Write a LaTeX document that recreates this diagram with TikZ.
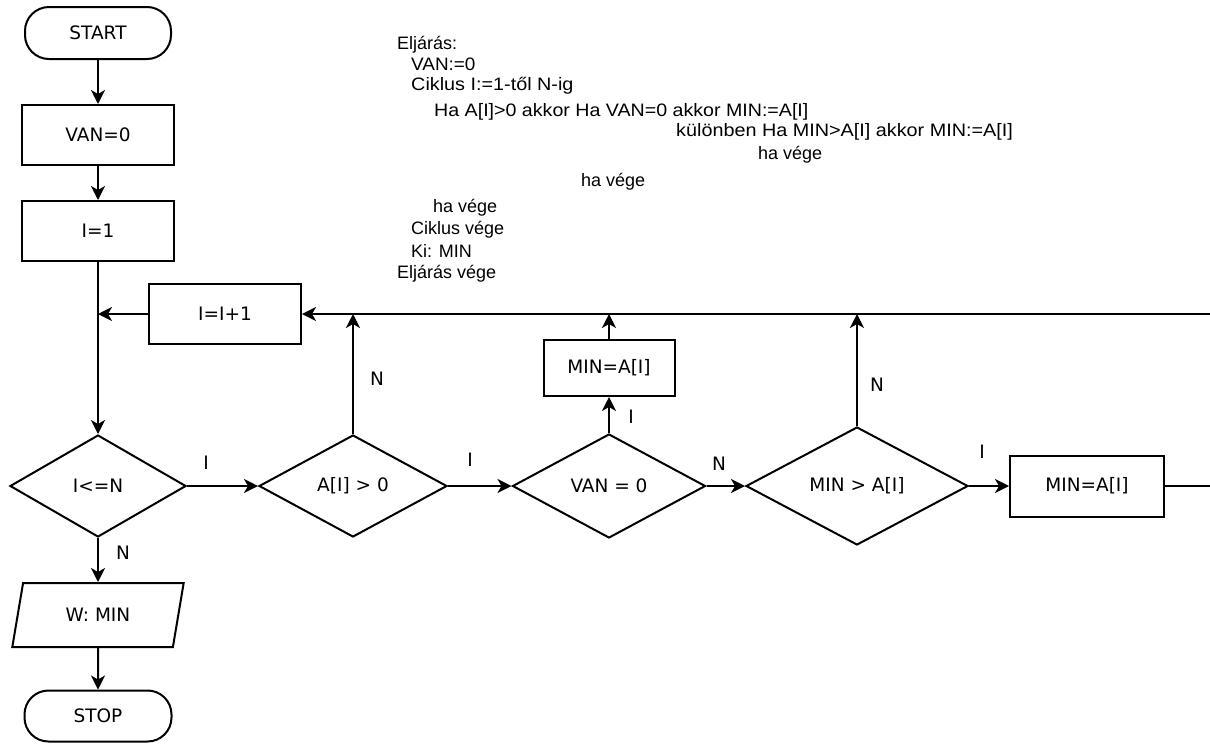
\documentclass[tikz,border=0pt]{standalone}
\usepackage{fontspec}
\setmainfont{Liberation Sans}
\newfontfamily\nodefont{DejaVu Sans}
\usetikzlibrary{shapes.geometric,arrows.meta}
\begin{document}
\begin{tikzpicture}[x=1pt,y=-1pt,
  txt/.style={font=\nodefont\fontsize{18.5pt}{22pt}\selectfont},
  base/.style={txt, draw, line width=2pt, inner sep=0pt},
  proc/.style={base, rectangle},
  term/.style={base, rectangle, rounded corners=24pt},
  dec/.style={base, diamond, aspect=2},
  io/.style={base, trapezium, trapezium left angle=71, trapezium right angle=109, trapezium stretches=true},
  arr/.style={line width=2pt, -{Stealth[length=14pt,width=14pt,inset=4pt]}},
  lab/.style={txt, inner sep=0pt},
  code/.style={font=\fontsize{18pt}{21pt}\selectfont, anchor=west, inner sep=0pt}]
\clip (0,0) rectangle (1210,745);
\fill[white] (0,0) rectangle (1210,745);
% nodes
\node[term, minimum width=146pt, minimum height=52pt] (start) at (98,33) {START};
\node[proc, minimum width=152pt, minimum height=60pt] (van) at (98,135) {VAN=0};
\node[proc, minimum width=152pt, minimum height=60pt] (i1) at (98,231) {I=1};
\node[dec, minimum width=176pt, minimum height=102pt] (cond) at (98,486) {I<=N};
\node[proc, minimum width=152pt, minimum height=60pt] (incr) at (225,314) {I=I+1};
\node[dec, minimum width=188pt, minimum height=102pt] (apos) at (353,486) {A[I] > 0};
\node[dec, minimum width=193pt, minimum height=104pt] (vz) at (609,486) {VAN = 0};
\node[proc, minimum width=131pt, minimum height=56pt] (m1) at (609,368) {MIN=A[I]};
\node[dec, minimum width=222pt, minimum height=118pt] (mg) at (857,486) {MIN > A[I]};
\node[proc, minimum width=154pt, minimum height=61pt] (m2) at (1087,486) {MIN=A[I]};
\node[io, minimum width=172pt, minimum height=64pt] (out) at (98,615) {W: MIN};
\node[term, minimum width=147pt, minimum height=51pt] (stop) at (98,716) {STOP};
% labels
\node[lab] (l1) at (206,463) {I};
\node[lab] (l2) at (123,553) {N};
\node[lab] (l3) at (377,379) {N};
\node[lab] (l4) at (470,460) {I};
\node[lab] (l5) at (631,417) {I};
\node[lab] (l6) at (719,464) {N};
\node[lab] (l7) at (877,385) {N};
\node[lab] (l8) at (982,452) {I};
% connectors
\draw[arr] (start) -- (van);
\draw[arr] (van) -- (i1);
\draw[arr] (i1) -- (cond);
\draw[arr] (cond) -- (apos);
\draw[arr] (apos) -- (vz);
\draw[arr] (vz) -- (mg);
\draw[arr] (mg) -- (m2);
\draw[arr] (vz) -- (m1);
\draw[arr] (cond) -- (out);
\draw[arr] (out) -- (stop);
\draw[arr] (apos.north) -- (apos.north |- incr.east);
\draw[arr] (m1.north) -- (m1.north |- incr.east);
\draw[arr] (mg.north) -- (mg.north |- incr.east);
\draw[arr] (m2.east) -- ++(60,0) |- (incr.east);
\draw[arr] (incr.west) -- (incr.west -| cond.north);
% pseudo-code
\node[code] (c1) at (397,45) {Eljárás:};
\node[code] (c2) at (411,64) {\scalebox{1.05}[1]{VAN:=0}};
\node[code] (c3) at (411,86) {\scalebox{1.10}[1]{Ciklus I:=1-től N-ig}};
\node[code] (c4) at (434,112) {\scalebox{1.09}[1]{Ha A[I]>0 akkor Ha VAN=0 akkor MIN:=A[I]}};
\node[code] (c5) at (676,132) {\scalebox{1.10}[1]{különben Ha MIN>A[I] akkor MIN:=A[I]}};
\node[code] (c6) at (758,155) {ha vége};
\node[code] (c7) at (581,182) {ha vége};
\node[code] (c8) at (433,208) {ha vége};
\node[code] (c9) at (411,230) {Ciklus vége};
\node[code] (c10) at (411,251) {Ki: MIN};
\node[code] (c11) at (397,274) {Eljárás vége};
\end{tikzpicture}
\end{document}
